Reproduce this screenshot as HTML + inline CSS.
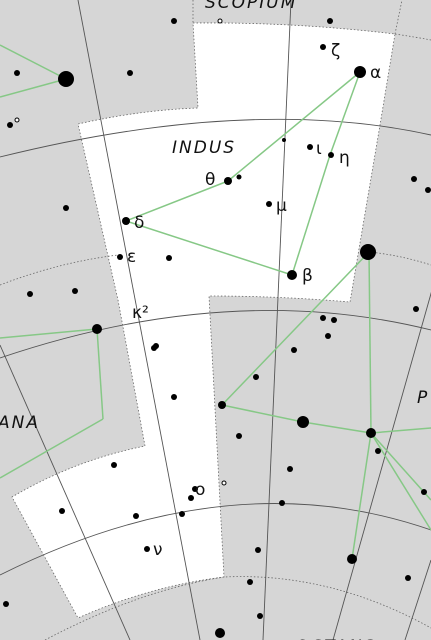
<!DOCTYPE html>
<html><head><meta charset="utf-8"><style>
html,body{margin:0;padding:0;background:#d4d4d4;}
svg{display:block;}
text{font-family:"DejaVu Sans","Liberation Sans",sans-serif;fill:#111;}
</style></head><body>
<svg id="chart" width="431" height="640" viewBox="0 0 431 640" xmlns="http://www.w3.org/2000/svg">
<rect x="0" y="0" width="431" height="640" fill="#d6d6d6"/>
<path d="M193,23 Q295,22 395,34 L380,125 L350,302 Q280,296 209,296 L224,577 Q150,586 78,618 L12,497 Q75,460 145,446 L118,300 L78,124 Q140,110 198,108 Z" fill="#ffffff"/>
<g fill="none" stroke="#666" stroke-width="0.8" stroke-dasharray="1.5,2">
<path d="M193,23 Q295,22 395,34 L380,125 L350,302 Q280,296 209,296 L224,577 Q150,586 78,618 L12,497 Q75,460 145,446 L118,300 L78,124 Q140,110 198,108 Z"/>
<path d="M193,0 L193,23"/><path d="M395,34 Q415,37 431,40"/><path d="M395,34 L402,0"/>
<path d="M369,252 Q400,255 431,265"/>
<path d="M0,285 Q60,262 118,255"/>
<path d="M45,640 Q140,590 224,577 Q330,572 431,628"/>
</g>
<g fill="none" stroke="#555" stroke-width="0.9">
<path d="M78,0 L200,640"/>
<path d="M291,0 L263,640"/>
<path d="M0,345 L130,640"/>
<path d="M432,290 L333,640"/>
<path d="M431,560 L405,640"/>
<path d="M0,157 Q250,95 431,135"/>
<path d="M0,358 Q230,280 431,330"/>
<path d="M0,575 Q230,460 431,530"/>
</g>
<g id="lines" fill="none" stroke="#86c886" stroke-width="1.5"></g>
<g id="stars"></g>
<g id="labels"></g>
<text x="205" y="8" font-size="17" font-style="italic" letter-spacing="2">SCOPIUM</text>
<text x="172" y="153" font-size="17" font-style="italic" letter-spacing="2">INDUS</text>
<text x="-2" y="428" font-size="17" font-style="italic" letter-spacing="2">ANA</text>
<text x="417" y="403" font-size="17" font-style="italic">P</text>
<text x="295" y="652" font-size="17" font-style="italic" letter-spacing="2">OCTANS</text>
</svg>
<script>
const starX=[360,368,66,303,371,97,222,292,228,126,331,120,352,182,220,323,330,17,130,174,66,30,75,10,414,428,323,334,328,294,256,174,154,114,136,147,62,290,258,260,416,284,378,424,282,239,269,169,191,156,250,195,6,408,310,239];
const starY=[72,252,79,422,433,329,405,275,181,221,155,257,559,514,633,47,21,73,73,21,208,294,291,125,179,190,318,320,336,350,377,397,348,465,516,549,511,469,550,616,309,140,451,492,503,436,204,258,498,346,582,489,604,578,147,177];
const starR=[6,8,8,6,5,5,4,5,4,4,3,3,5,3,5,3,3,3,3,3,3,3,3,3,3,3,3,3,3,3,3,3,3,3,3,3,3,3,3,3,3,2,3,3,3,3,3,3,3,3,3,3,3,3,3,2.5];
const hollowX=[220,17,224];
const hollowY=[21,120,483];
const lineSegs=[[360,72,228,181],[228,181,126,221],[126,221,292,275],[292,275,330,155],[330,155,360,72],
[0,45,66,79],[66,79,0,97],[369,252,222,405],[222,405,303,422],[303,422,371,433],[371,433,431,428],[369,252,371,433],[371,433,352,559],[371,433,431,530],[371,433,431,500],
[0,338,97,329],[97,329,103,419],[103,419,0,478]];
const greek=["α","β","θ","δ","ε","ζ","η","ι","μ","ν","ο","κ²"];
const greekX=[370,302,205,134,127,331,339,316,276,153,195,132];
const greekY=[78,281,185,228,262,56,163,154,211,555,495,318];
const NS="http://www.w3.org/2000/svg";
const gl=document.getElementById('lines');
lineSegs.forEach(s=>{const l=document.createElementNS(NS,'line');


l.setAttribute('x1',s[0]);l.setAttribute('y1',s[1]);l.setAttribute('x2',s[2]);l.setAttribute('y2',s[3]);gl.appendChild(l);});
const gs=document.getElementById('stars');
starX.forEach((x,i)=>{const c=document.createElementNS(NS,'circle');


c.setAttribute('cx',x);c.setAttribute('cy',starY[i]);c.setAttribute('r',starR[i]);c.setAttribute('fill','#000');gs.appendChild(c);});
hollowX.forEach((x,i)=>{const c=document.createElementNS(NS,'circle');


c.setAttribute('cx',x);c.setAttribute('cy',hollowY[i]);c.setAttribute('r',2);c.setAttribute('fill','#fff');c.setAttribute('stroke','#000');c.setAttribute('stroke-width','1');gs.appendChild(c);});
const glb=document.getElementById('labels');
greek.forEach((g,i)=>{const t=document.createElementNS(NS,'text');


t.setAttribute('x',greekX[i]);t.setAttribute('y',greekY[i]);t.setAttribute('font-size','17');t.setAttribute('font-family','"DejaVu Serif","Liberation Serif",serif');t.textContent=g;glb.appendChild(t);});
</script>
</body></html>
